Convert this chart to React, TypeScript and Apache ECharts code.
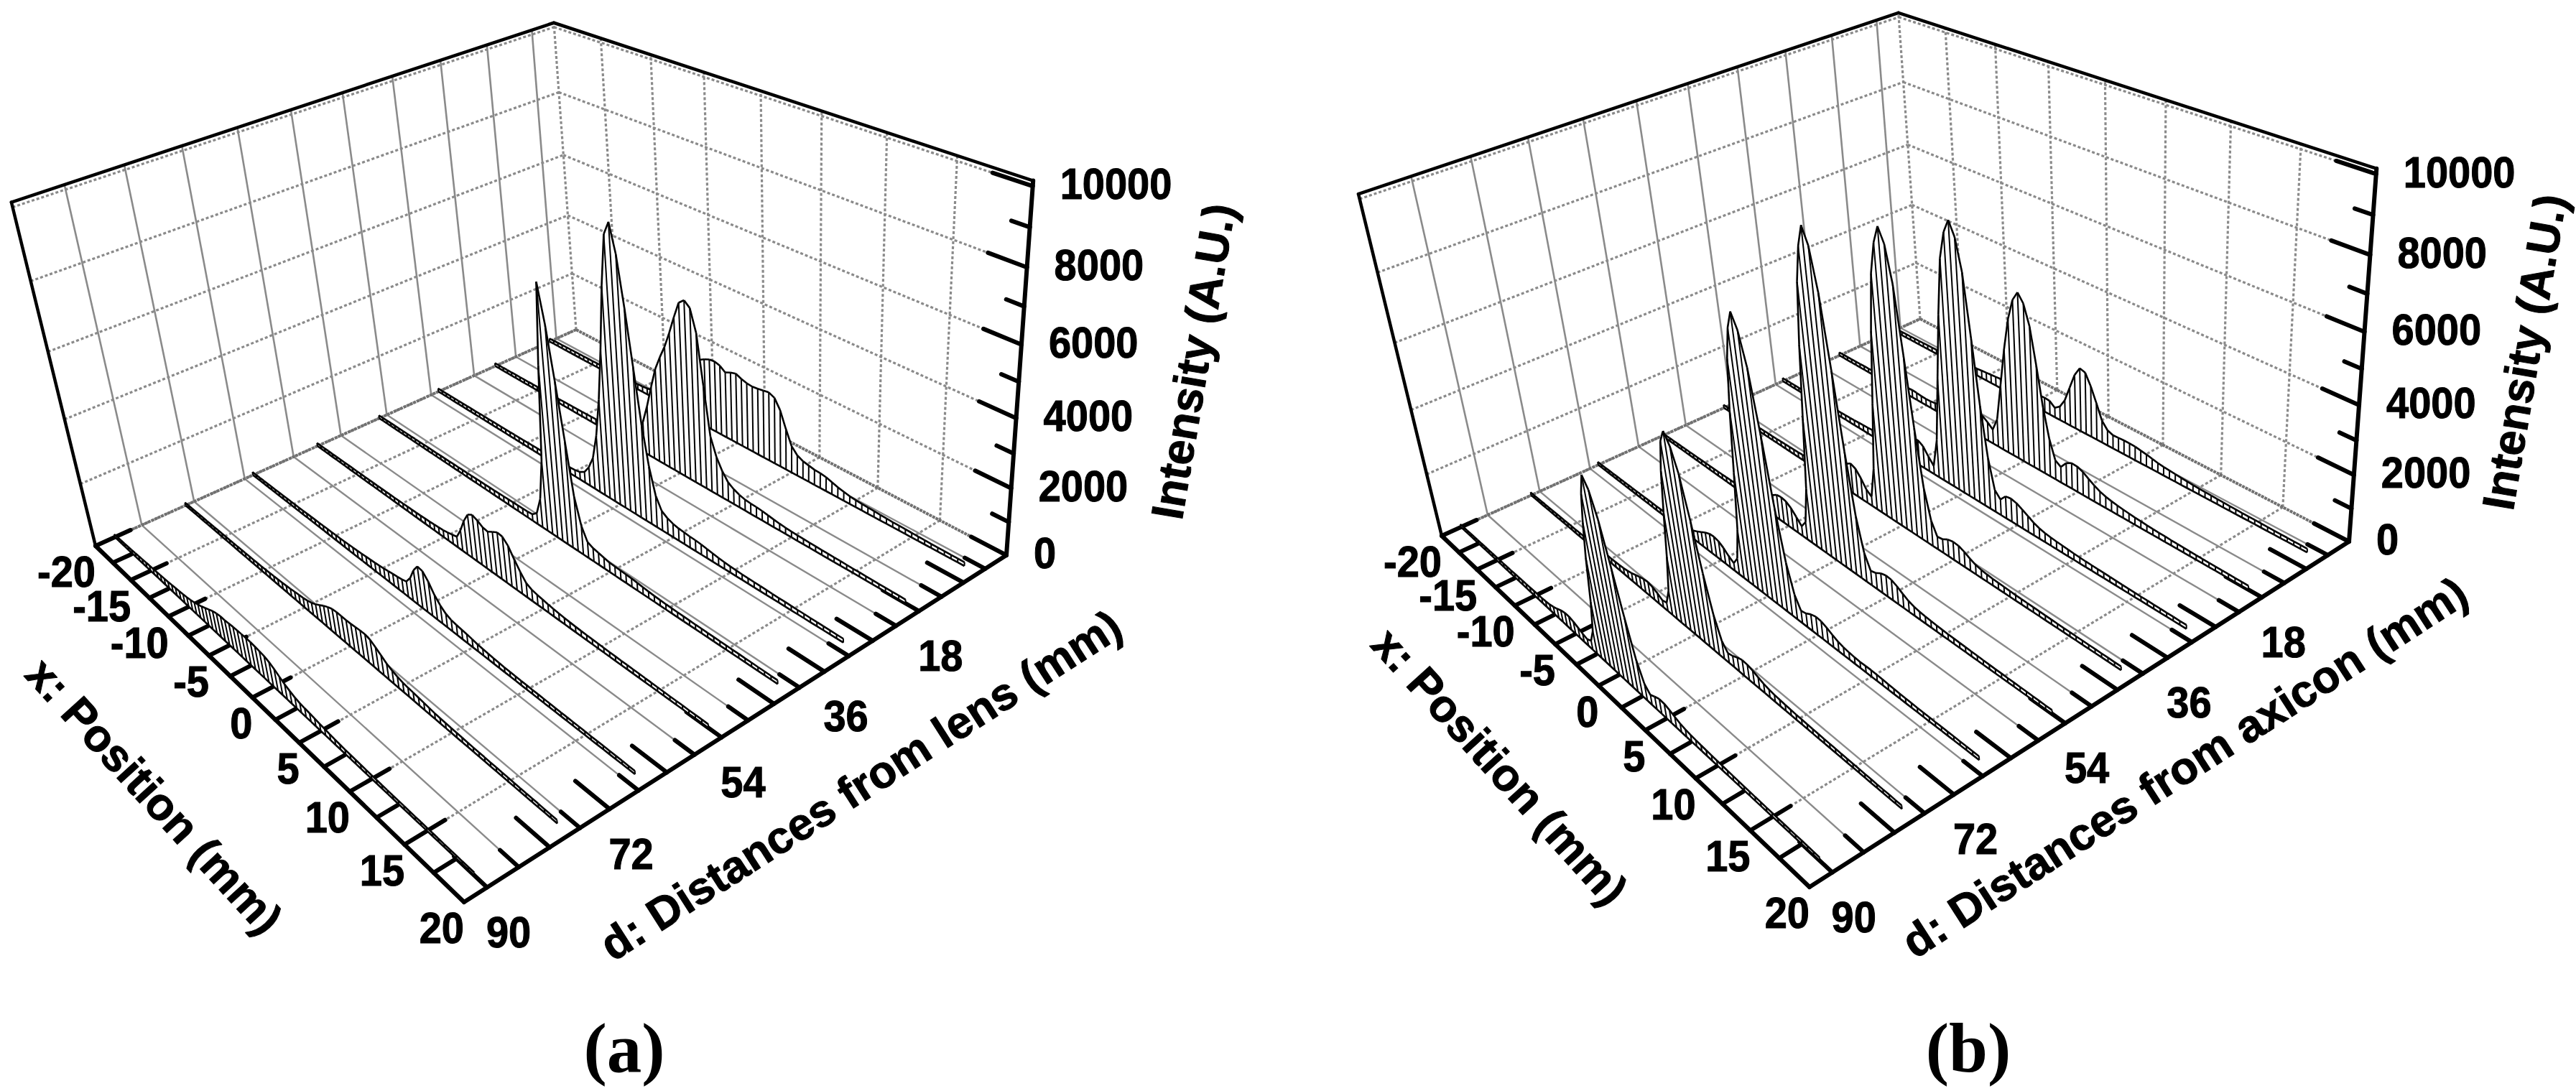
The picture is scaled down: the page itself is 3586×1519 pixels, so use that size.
import React, { useEffect, useRef } from "react";
import * as echarts from "echarts";

const WIDTH = 3586;
const HEIGHT = 1519;

// sample positions of every spectrum, mm
const X_SAMPLES = [
  -20, -19.5, -19, -18.5, -18, -17.5, -17, -16.5, -16, -15.5,
  -15, -14.5, -14, -13.5, -13, -12.5, -12, -11.5, -11, -10.5,
  -10, -9.5, -9, -8.5, -8, -7.5, -7, -6.5, -6, -5.5,
  -5, -4.5, -4, -3.5, -3, -2.5, -2, -1.5, -1, -0.5,
  0, 0.5, 1, 1.5, 2, 2.5, 3, 3.5, 4, 4.5,
  5, 5.5, 6, 6.5, 7, 7.5, 8, 8.5, 9, 9.5,
  10, 10.5, 11, 11.5, 12, 12.5, 13, 13.5, 14, 14.5,
  15, 15.5, 16, 16.5, 17, 17.5, 18, 18.5, 19,
];
const DISTANCES = [6, 18, 30, 42, 54, 66, 78, 90];

const LENS_D6 = [
  110,115,120,120,125,125,130,130,130,135, 135,140,140,145,150,150,155,160,165,170,
  180,190,210,240,290,370,500,700,950,1250, 1500,1750,1950,2100,2200,2280,2300,2250,2120,2200,
  2250,2170,2120,2100,2120,2150,2180,2100,1800,1300, 850,650,560,520,480,470,440,380,320,280,
  240,220,205,195,185,175,165,155,150,145, 140,135,130,125,120,120,115,115,110,
];
const LENS_D18 = [
  105,110,110,115,115,120,120,125,125,130, 130,130,135,135,140,140,145,150,150,155,
  160,165,170,180,190,200,215,235,260,290, 330,450,650,1000,1600,2300,2950,3400,3800,4300,
  4850,5350,5500,5350,4700,3200,1750,1200,850,600, 480,400,350,330,320,300,270,240,215,195,
  180,170,165,160,155,150,145,140,140,135, 130,130,125,125,120,120,115,115,110,
];
const LENS_D30 = [
  110,110,115,115,120,120,120,125,125,125, 130,130,130,135,135,135,140,140,145,145,
  150,150,155,160,160,165,170,175,180,190, 200,215,250,350,600,1000,1800,3000,4600,6500,
  8000,8400,7600,6200,4600,3000,1800,1000,620,500, 430,390,370,350,340,320,290,260,230,210,
  190,180,170,165,160,155,150,145,140,140, 135,130,130,125,125,120,120,115,115,
];
const LENS_D42 = [
  100,105,105,110,110,110,115,115,115,120, 120,120,125,125,125,130,130,130,135,135,
  140,140,145,145,150,150,155,160,165,170, 175,180,185,190,195,210,350,900,2200,5100,
  7500,6400,4900,3300,1700,900,500,420,380,340, 300,290,280,270,260,240,220,200,185,175,
  165,160,155,150,145,140,140,135,135,130, 130,125,125,120,120,115,115,110,110,
];
const LENS_D54 = [
  105,105,110,110,110,115,115,115,120,120, 120,125,125,125,130,130,135,135,140,140,
  145,150,155,160,165,170,180,190,200,215, 230,260,300,340,650,1050,1350,1450,1380,1280,
  1250,1350,1440,1420,1250,950,680,450,360,320, 290,260,235,215,200,185,175,165,160,155,
  150,145,140,140,135,135,130,130,125,125, 120,120,115,115,115,110,110,110,105,
];
const LENS_D66 = [
  100,105,105,110,110,115,115,120,120,125, 125,130,130,135,140,145,150,155,160,165,
  170,175,180,190,200,210,220,235,250,265, 280,300,320,350,380,400,430,480,700,1050,
  1280,1250,1050,760,560,420,350,320,300,280, 250,220,200,185,170,160,150,145,140,135,
  135,130,130,125,125,120,120,120,115,115, 115,110,110,110,105,105,105,100,100,
];
const LENS_D78 = [
  95,100,100,105,105,110,110,115,115,120, 120,125,125,130,130,135,135,140,145,150,
  155,160,170,180,190,205,220,235,260,280, 300,330,380,450,540,640,720,780,800,800,
  800,810,830,850,860,820,720,600,480,400, 340,300,275,260,240,220,200,180,170,160,
  155,150,145,140,135,130,130,125,125,120, 120,115,115,110,110,110,105,105,100,
];
const LENS_D90 = [
  95,100,105,110,115,120,130,140,150,160, 170,175,185,195,205,215,230,245,260,280,
  300,330,370,420,480,550,620,690,740,770, 770,790,810,820,830,835,840,830,810,790,
  740,660,560,460,390,330,290,270,255,240, 215,200,180,165,155,145,140,135,130,125,
  120,120,115,115,110,110,110,105,105,105, 100,100,100,95,95,95,90,90,90,
];

const AXICON_D6 = [
  115,120,120,125,125,130,130,135,140,140, 145,150,155,160,170,180,190,205,220,240,
  260,275,290,305,320,335,350,365,380,395, 410,430,460,480,460,320,450,750,1250,1750,
  2050,2000,1650,1200,720,500,430,440,450,450, 440,410,380,340,300,275,260,240,225,210,
  195,185,175,170,160,155,150,145,140,135, 135,130,125,125,120,120,115,115,110,
];
const AXICON_D18 = [
  110,115,115,120,120,125,130,130,135,135, 140,145,150,160,180,210,240,255,245,225,
  215,225,250,290,340,400,470,540,600,660, 720,760,740,620,470,900,2100,3300,4300,4950,
  5250,5000,4400,3300,2100,1200,620,500,720,820, 810,740,620,510,420,360,320,290,265,245,
  225,210,195,185,175,170,160,155,150,145, 140,135,130,130,125,125,120,120,115,
];
const AXICON_D30 = [
  110,110,115,115,120,120,125,125,130,130, 135,135,140,145,150,155,160,170,180,190,
  200,215,235,260,290,340,400,470,550,640, 760,820,720,480,270,1200,3200,5200,6900,7700,
  8100,7700,6800,5000,3100,1600,700,500,700,730, 690,600,500,400,330,285,260,240,225,210,
  195,185,175,170,165,160,155,150,145,140, 135,130,130,125,125,120,120,115,115,
];
const AXICON_D42 = [
  105,110,110,115,115,120,120,125,125,130, 130,135,135,140,145,150,155,160,170,180,
  190,200,220,250,300,380,480,600,730,860, 970,900,700,430,300,1300,3400,5600,7300,8200,
  8700,8300,7300,5400,3400,1700,800,400,430,530, 570,550,480,380,300,255,230,210,200,190,
  180,170,165,160,155,150,145,140,135,130, 130,125,125,120,120,115,115,110,110,
];
const AXICON_D54 = [
  105,105,110,110,115,115,120,120,125,125, 130,130,135,135,140,145,150,155,160,170,
  180,190,210,250,320,420,540,680,790,820, 790,680,500,310,550,1700,3900,6100,7900,8900,
  9500,9050,7900,5900,3700,1900,900,450,500,600, 650,630,550,440,340,280,245,220,205,190,
  180,170,165,160,155,150,145,140,135,130, 130,125,125,120,120,115,115,110,110,
];
const AXICON_D66 = [
  100,105,105,110,110,115,115,120,120,125, 125,130,130,135,140,140,145,150,155,160,
  170,180,195,230,290,370,460,550,620,640, 600,500,350,240,500,1500,3300,5200,6700,7600,
  8100,7700,6800,5100,3100,1600,760,380,420,510, 560,540,470,380,300,250,220,200,190,195,
  200,195,185,170,160,150,145,140,135,130, 130,125,125,120,120,115,115,110,110,
];
const AXICON_D78 = [
  100,100,105,105,110,110,115,115,120,120, 125,125,130,135,135,140,145,150,155,160,
  165,170,175,185,200,225,265,320,375,420, 440,400,320,220,260,750,1900,3300,4600,5500,
  5870,5550,4900,3700,2300,1200,550,300,340,420, 470,460,410,340,280,240,210,195,180,170,
  160,155,150,145,140,135,135,130,125,125, 120,120,115,115,110,110,110,105,105,
];
const AXICON_D90 = [
  95,100,100,105,105,110,110,115,115,120, 120,125,125,130,130,135,140,145,150,155,
  160,165,170,180,200,240,300,370,415,420, 380,320,250,200,280,700,1700,3100,4200,5100,
  5700,5400,4700,3500,2200,1100,500,300,380,445, 440,390,320,260,220,200,185,175,170,160,
  155,150,145,140,135,130,130,125,125,120, 120,115,115,110,110,110,105,105,100,
];

const LENS_SPECTRA = [LENS_D6, LENS_D18, LENS_D30, LENS_D42, LENS_D54, LENS_D66, LENS_D78, LENS_D90];
const AXICON_SPECTRA = [AXICON_D6, AXICON_D18, AXICON_D30, AXICON_D42, AXICON_D54, AXICON_D66, AXICON_D78, AXICON_D90];

// axis ticks and labels
const X_MAJOR = [-20, -15, -10, -5, 0, 5, 10, 15];
const X_MINOR = [-17.5, -12.5, -7.5, -2.5, 2.5, 7.5, 12.5, 17.5];
const X_LABELS = [-20, -15, -10, -5, 0, 5, 10, 15, 20];
const D_LONG = [9, 18, 27, 36, 45, 54, 63, 72, 81, 90];
const D_GRID = [4.5, 13.5, 22.5, 31.5, 40.5, 49.5, 58.5, 67.5, 76.5, 85.5];
const D_LABELS = [18, 36, 54, 72, 90];
const Z_MAJOR = [0, 2000, 4000, 6000, 8000, 10000];
const Z_MINOR = [1000, 3000, 5000, 7000, 9000];

const X_MIN = -20;
const X_MAX = 20;
const D_MAX = 93.2;
const Z_MAX = 10130;

type Pt = [number, number];
interface Corners { A: Pt; B: Pt; C: Pt; E: Pt; At: Pt; Ct: Pt; Et: Pt }

const PANEL_A: Corners = {
  A: [133, 760], B: [646, 1256], C: [1401, 773], E: [802, 459],
  At: [16, 283], Ct: [1438, 251], Et: [771, 31],
};
const PANEL_B: Corners = {
  A: [2007, 746], B: [2519, 1235], C: [3270, 754], E: [2673, 444],
  At: [1891, 269], Ct: [3308, 237], Et: [2643, 17],
};

function solve3(m: number[][], r: number[]): number[] {
  const det = (a: number[][]) =>
    a[0][0] * (a[1][1] * a[2][2] - a[1][2] * a[2][1]) -
    a[0][1] * (a[1][0] * a[2][2] - a[1][2] * a[2][0]) +
    a[0][2] * (a[1][0] * a[2][1] - a[1][1] * a[2][0]);
  const d = det(m);
  return [0, 1, 2].map((c) => det(m.map((row, i) => row.map((v, j) => (j === c ? r[i] : v)))) / d);
}

// perspective camera of one panel: (x mm, d mm, intensity) -> page pixels
function makeProjection(k: Corners) {
  const [x0, y0] = k.E, [x1, y1] = k.C, [x2, y2] = k.B, [x3, y3] = k.A;
  const dx1 = x1 - x2, dx2 = x3 - x2, sx = x0 - x1 + x2 - x3;
  const dy1 = y1 - y2, dy2 = y3 - y2, sy = y0 - y1 + y2 - y3;
  const den = dx1 * dy2 - dx2 * dy1;
  const g = (sx * dy2 - dx2 * sy) / den;
  const h = (dx1 * sy - sx * dy1) / den;
  const a = x1 - x0 + g * x1, b = x3 - x0 + h * x3, c = x0;
  const d = y1 - y0 + g * y1, e = y3 - y0 + h * y3, f = y0;
  const floor = (u: number, v: number) => [a * u + b * v + c, d * u + e * v + f, g * u + h * v + 1];
  const rows: number[][] = [];
  const rhs: number[] = [];
  const fit = (u: number, v: number, t: Pt) => {
    const q = floor(u, v);
    rows.push([1, 0, -t[0]]); rhs.push(t[0] * q[2] - q[0]);
    rows.push([0, 1, -t[1]]); rhs.push(t[1] * q[2] - q[1]);
  };
  fit(0, 1, k.At); fit(1, 0, k.Ct); fit(0, 0, k.Et);
  const ata = [0, 1, 2].map((i) => [0, 1, 2].map((j) => rows.reduce((s, r) => s + r[i] * r[j], 0)));
  const atb = [0, 1, 2].map((i) => rows.reduce((s, r, n) => s + r[i] * rhs[n], 0));
  const [p, q, r] = solve3(ata, atb);
  return (x: number, dist: number, z: number): Pt => {
    const u = (x - X_MIN) / (X_MAX - X_MIN);
    const v = dist / D_MAX;
    const w = z / Z_MAX;
    const s = floor(u, v);
    const W = s[2] + r * w;
    return [(s[0] + p * w) / W, (s[1] + q * w) / W];
  };
}

type Project = (x: number, d: number, z: number) => Pt;
const FONT = '"Liberation Sans", Arial, sans-serif';
const GRAY = "#8a8a8a";
const DOT = [4, 3];

function lineSeries(project: Project, lines: number[][], style: any, z: number) {
  return {
    type: "custom", coordinateSystem: "cartesian2d", silent: true, clip: false, z, data: lines,
    renderItem: (_: any, api: any) => {
      const a = api.coord(project(api.value(0), api.value(1), api.value(2)));
      const b = api.coord(project(api.value(3), api.value(4), api.value(5)));
      return { type: "line", shape: { x1: a[0], y1: a[1], x2: b[0], y2: b[1] }, style: { fill: null, ...style } };
    },
  };
}

function labelSeries(project: Project, items: number[][], texts: string[], align: string, dx: number, dy: number, z: number) {
  return {
    type: "custom", coordinateSystem: "cartesian2d", silent: true, clip: false, z, data: items,
    renderItem: (params: any, api: any) => {
      const p = api.coord(project(api.value(0), api.value(1), api.value(2)));
      return {
        type: "text", x: p[0] + dx, y: p[1] + dy, scaleY: 1.08,
        style: {
          text: texts[params.dataIndex], fontSize: 56, fontWeight: "bold", fontFamily: FONT,
          fill: "#000", stroke: "#000", lineWidth: 1, align, verticalAlign: "middle",
        },
      };
    },
  };
}

function spectrumSeries(project: Project, dist: number, values: number[], z: number) {
  const data = values.map((v, i) => [
    X_SAMPLES[i], dist, v,
    i + 1 < values.length ? X_SAMPLES[i + 1] : X_SAMPLES[i],
    i + 1 < values.length ? values[i + 1] : v,
  ]);
  return {
    type: "custom", coordinateSystem: "cartesian2d", silent: true, clip: false, z, data,
    renderItem: (_: any, api: any) => {
      const x = api.value(0), dd = api.value(1), v = api.value(2), nx = api.value(3), nv = api.value(4);
      const b0 = api.coord(project(x, dd, 0));
      const t0 = api.coord(project(x, dd, v));
      const b1 = api.coord(project(nx, dd, 0));
      const t1 = api.coord(project(nx, dd, nv));
      const ink = { stroke: "#000", lineWidth: 2, fill: null };
      return {
        type: "group",
        children: [
          { type: "polygon", z2: 1, shape: { points: [b0, t0, t1, b1] }, style: { fill: "#fff", stroke: null } },
          { type: "line", z2: 2, shape: { x1: b0[0], y1: b0[1], x2: t0[0], y2: t0[1] }, style: ink },
          { type: "line", z2: 2, shape: { x1: t0[0], y1: t0[1], x2: t1[0], y2: t1[1] }, style: { ...ink, lineWidth: 2.6 } },
          { type: "line", z2: 2, shape: { x1: b0[0], y1: b0[1], x2: b1[0], y2: b1[1] }, style: { ...ink, lineWidth: 2.6 } },
        ],
      };
    },
  };
}

function panelSeries(k: Corners, spectra: number[][]) {
  const project = makeProjection(k);
  const out: any[] = [];
  const wallDotted: number[][] = [];
  const wallSolid: number[][] = [];
  const floorSolid: number[][] = [];
  const floorDotted: number[][] = [];
  Z_MAJOR.filter((z) => z > 0).forEach((z) => {
    wallDotted.push([X_MIN, D_MAX, z, X_MIN, 0, z]);
    wallDotted.push([X_MIN, 0, z, X_MAX, 0, z]);
  });
  X_MAJOR.forEach((x) => {
    wallDotted.push([x, 0, 0, x, 0, Z_MAX]);
    floorDotted.push([x, 0, 0, x, D_MAX, 0]);
  });
  D_GRID.forEach((d) => {
    wallSolid.push([X_MIN, d, 0, X_MIN, d, Z_MAX]);
    floorSolid.push([X_MIN, d, 0, X_MAX, d, 0]);
  });
  out.push(lineSeries(project, wallSolid, { stroke: GRAY, lineWidth: 2.6 }, 2));
  out.push(lineSeries(project, wallDotted, { stroke: GRAY, lineWidth: 3.2, lineDash: DOT }, 2));
  out.push(lineSeries(project, floorSolid, { stroke: GRAY, lineWidth: 2.4 }, 2));
  out.push(lineSeries(project, floorDotted, { stroke: GRAY, lineWidth: 3.2, lineDash: DOT }, 2));
  out.push(lineSeries(project, [
    [X_MIN, D_MAX, 0, X_MIN, 0, 0],
    [X_MIN, 0, 0, X_MAX, 0, 0],
  ], { stroke: "#707070", lineWidth: 4, lineDash: [4, 1] }, 3));

  const ticks = (lines: number[][], w = 6) =>
    out.push(lineSeries(project, lines, { stroke: "#000", lineWidth: w, lineCap: "round" }, 4));
  ticks(X_MAJOR.map((x) => [x, D_MAX, 0, x, D_MAX - 5.8, 0]));
  ticks(X_MINOR.map((x) => [x, D_MAX, 0, x, D_MAX - 3, 0]));
  ticks(D_LONG.map((d) => [X_MAX, d, 0, X_MAX - 2.7, d, 0]));
  ticks(D_GRID.map((d) => [X_MAX, d, 0, X_MAX - 1.5, d, 0]));
  ticks(Z_MAJOR.map((z) => [X_MAX, 0, z, X_MAX - 2.6, 0, z]));
  ticks(Z_MINOR.map((z) => [X_MAX, 0, z, X_MAX - 1.2, 0, z]));

  ticks([
    [X_MIN, D_MAX, 0, X_MAX, D_MAX, 0],
    [X_MAX, D_MAX, 0, X_MAX, 0, 0],
    [X_MAX, 0, 0, X_MAX, 0, Z_MAX],
  ], 6);
  ticks([
    [X_MIN, D_MAX, 0, X_MIN, D_MAX, Z_MAX],
    [X_MIN, D_MAX, Z_MAX, X_MIN, 0, Z_MAX],
    [X_MIN, 0, Z_MAX, X_MAX, 0, Z_MAX],
  ], 4.5);

  spectra.forEach((values, i) => out.push(spectrumSeries(project, DISTANCES[i], values, 10 + i)));

  out.push(labelSeries(project, X_LABELS.map((x) => [x, D_MAX, 0]), X_LABELS.map(String), "right", 0, 36, 30));
  out.push(labelSeries(project, D_LABELS.map((d) => [X_MAX, d, 0]), D_LABELS.map(String), "center", 30, 62, 30));
  out.push(labelSeries(project, Z_MAJOR.map((z) => [X_MAX, 0, z]), Z_MAJOR.map(String), "left", 38, -3, 30));
  return out;
}

function title(text: string, x: number, y: number, deg: number) {
  return {
    type: "text", x, y, rotation: (deg * Math.PI) / 180, silent: true,
    style: { text, fontSize: 63, fontWeight: "bold", fontFamily: FONT, fill: "#000", stroke: "#000", lineWidth: 1, align: "center", verticalAlign: "middle" },
  };
}
function panelTag(text: string, x: number, y: number) {
  return {
    type: "text", x, y, silent: true,
    style: { text, fontSize: 97, fontWeight: "bold", fontFamily: '"Liberation Serif", serif', fill: "#000", align: "center", verticalAlign: "middle" },
  };
}

export default function App() {
  const ref = useRef<HTMLDivElement>(null);
  useEffect(() => {
    document.body.style.margin = "0";
    const chart = echarts.init(ref.current!, undefined, { renderer: "svg" });
    chart.setOption({
      animation: false,
      backgroundColor: "#fff",
      grid: { left: 0, right: 0, top: 0, bottom: 0 },
      xAxis: { type: "value", min: 0, max: WIDTH, show: false },
      yAxis: { type: "value", min: 0, max: HEIGHT, inverse: true, show: false },
      series: [...panelSeries(PANEL_A, LENS_SPECTRA), ...panelSeries(PANEL_B, AXICON_SPECTRA)],
      graphic: {
        elements: [
          title("Intensity (A.U.)", 1661, 503, 80.3),
          title("x: Position (mm)", 215, 1108, -47.6),
          title("d: Distances from lens (mm)", 1198, 1093, 32.6),
          panelTag("(a)", 869, 1459),
          title("Intensity (A.U.)", 3514, 490, 80.3),
          title("x: Position (mm)", 2088, 1067, -47.8),
          title("d: Distances from axicon (mm)", 3041, 1068, 32.8),
          panelTag("(b)", 2740, 1459),
        ],
      },
    });
    return () => chart.dispose();
  }, []);
  return <div ref={ref} style={{ width: WIDTH, height: HEIGHT }} />;
}
